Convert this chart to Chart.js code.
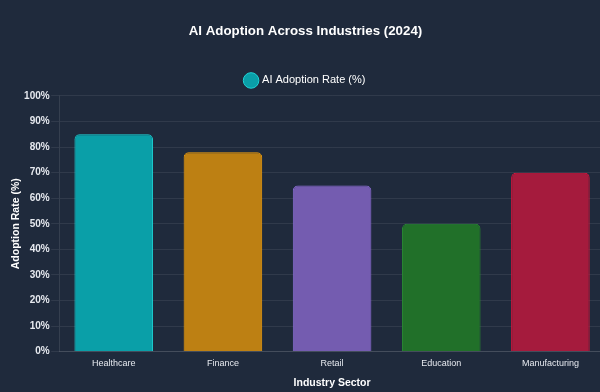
<!DOCTYPE html>
<html><head><meta charset="utf-8">
<script src="https://cdn.jsdelivr.net/npm/chart.js@4/dist/chart.umd.min.js"></script>
<style>html,body{margin:0;padding:0;background:#1f2a3c;overflow:hidden;}#wrap{width:614px;height:392px;}</style>
</head><body><div id="wrap"><canvas id="c"></canvas></div>
<script>
const categories = ['Healthcare','Finance','Retail','Education','Manufacturing'];
const adoptionRates = [85, 78, 65, 50, 70];
const seriesLabel = 'AI Adoption Rate (%)';
const fillColors = ['#0a9fa8','#bd8013','#745cb0','#217029','#a51b3d'];
const borderColors = ['#1fd3d6','#f5a00b','#8b6fd6','#2a8a33','#dc143c'];

Chart.defaults.font.family = '"Liberation Sans", Arial, sans-serif';
Chart.defaults.color = '#e6e9ef';
new Chart(document.getElementById('c'), {
  type: 'bar',
  data: { labels: categories, datasets: [{
    label: seriesLabel, data: adoptionRates,
    backgroundColor: fillColors, borderColor: borderColors,
    borderWidth: 1, borderRadius: 5, borderSkipped: 'bottom',
    barPercentage: 0.8, categoryPercentage: 0.9
  }]},
  options: {
    responsive: true, maintainAspectRatio: false, animation: false,
    layout: { padding: { left: 6, right: 9, top: 14, bottom: 3 } },
    plugins: {
      title: { display: true, text: 'AI Adoption Across Industries (2024)', color: '#ffffff',
        font: { size: 13.3, weight: 'bold' }, padding: { top: 9, bottom: 29 } },
      legend: { labels: { usePointStyle: true, pointStyle: 'circle', color: '#ffffff', font: { size: 11 }, boxHeight: 14, padding: 7 } },
      tooltip: { enabled: false }
    },
    scales: {
      y: { min: 0, max: 100,
        ticks: { stepSize: 10, callback: v => v + '%', color: '#e6e9ef', font: { size: 10, weight: 'bold' }, padding: 1.5 },
        grid: { color: 'rgba(255,255,255,0.08)' },
        border: { color: 'rgba(255,255,255,0.1)' },
        title: { display: true, text: 'Adoption Rate (%)', color: '#ffffff', font: { size: 10.5, weight: 'bold' }, padding: { top: 4, bottom: 0 } } },
      x: {
        ticks: { color: '#e6e9ef', font: { size: 9 }, padding: 3 },
        grid: { display: false, tickLength: 4 },
        border: { color: 'rgba(255,255,255,0.1)' },
        title: { display: true, text: 'Industry Sector', color: '#ffffff', font: { size: 10.5, weight: 'bold' }, padding: { top: 4, bottom: 0 } } }
    }
  }
});
</script></body></html>
